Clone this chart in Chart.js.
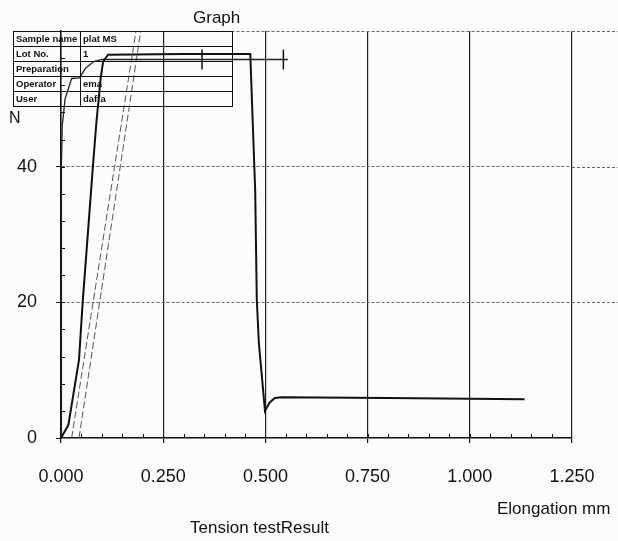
<!DOCTYPE html>
<html>
<head>
<meta charset="utf-8">
<title>Tension test</title>
<script src="https://cdn.jsdelivr.net/npm/chart.js@4.4.1/dist/chart.umd.min.js"></script>
<style>
body { margin: 0; background: #fcfcfc; font-family: "Liberation Sans", Arial, sans-serif; }
#wrap { position: relative; width: 618px; height: 541px; }
#graph { position: absolute; left: 0; top: 0; }
.lbl { position: absolute; color: #111; white-space: nowrap; line-height: 1; }
#info { position: absolute; left: 13px; top: 31px; width: 220px; height: 76px; border-collapse: collapse; table-layout: fixed; font-size: 9.5px; font-weight: bold; color: #111; }
#info td { border: 1.5px solid #111; padding: 0 0 0 2px; line-height: 12px; height: 13px; white-space: nowrap; overflow: hidden; }
</style>
</head>
<body>
<div id="wrap">
  <canvas id="graph" width="618" height="541"></canvas>
  <table id="info"><colgroup><col style="width:67px"><col></colgroup></table>
  <div class="lbl" style="left:193px;top:9px;font-size:17px;">Graph</div>
  <div class="lbl" style="left:9px;top:110px;font-size:16px;">N</div>
  <div class="lbl" style="left:497px;top:500px;font-size:17px;">Elongation mm</div>
  <div class="lbl" style="left:190px;top:519px;font-size:17px;">Tension testResult</div>
</div>
<script>
// axis ticks
const xTicks = [0, 0.25, 0.5, 0.75, 1.0, 1.25];
const yTicks = [0, 20, 40, 60];

// specimen curves (elongation mm, force N)
const spec1X = [0, 0.018, 0.044, 0.053, 0.078, 0.087, 0.097, 0.103, 0.115, 0.300, 0.463, 0.475, 0.479, 0.484, 0.499, 0.510, 0.523, 0.540, 0.800, 1.134];
const spec1Y = [0, 1.9, 11.5, 20.0, 40.0, 46.8, 53.0, 55.5, 56.5, 56.6, 56.6, 36.5, 20.3, 14.0, 4.0, 5.2, 5.9, 6.0, 5.9, 5.7];
const spec2X = [0, 0.001, 0.003, 0.010, 0.026, 0.045, 0.060, 0.080, 0.100, 0.555];
const spec2Y = [0, 40.0, 46.0, 50.0, 53.0, 53.1, 54.5, 55.5, 55.8, 55.8];

// offset (modulus) lines
const offAX = [0.026, 0.131, 0.1835];
const offAY = [0, 40, 60];
const offBX = [0.044, 0.145, 0.195];
const offBY = [0, 40, 60];

// break / max marks
const markX = [0.345, 0.544];
const markY = [55.8, 55.8];

// info table
const infoLabels = ['Sample name', 'Lot No.', 'Preparation', 'Operator', 'User'];
const infoValues = ['plat MS', '1', '', 'ema', 'daffa'];

const tbl = document.getElementById('info');
infoLabels.forEach(function(l, i) {
  const tr = document.createElement('tr');
  tr.innerHTML = '<td>' + l + '</td><td>' + infoValues[i] + '</td>';
  tbl.appendChild(tr);
});

function pts(xs, ys) {
  return xs.map(function(x, i) { return {x: x, y: ys[i]}; });
}

const FONT = '"Liberation Sans", Arial, sans-serif';

// small inward ticks between the labelled ones
const minorTicks = {
  id: 'minorTicks',
  afterDraw(chart) {
    const ctx = chart.ctx;
    const x = chart.scales.x, y = chart.scales.y;
    ctx.save();
    ctx.strokeStyle = '#111';
    ctx.lineWidth = 1;
    ctx.beginPath();
    for (let v = 0.05; v < 1.25; v += 0.05) {
      const px = Math.round(x.getPixelForValue(v)) + 0.5;
      ctx.moveTo(px, x.top);
      ctx.lineTo(px, x.top - 4);
    }
    for (let v = 4; v < 60; v += 4) {
      const py = Math.round(y.getPixelForValue(v)) + 0.5;
      ctx.moveTo(y.right, py);
      ctx.lineTo(y.right + 4, py);
    }
    ctx.stroke();
    ctx.restore();
  }
};

// horizontal grid runs on past the right edge of the plot
const gridRun = {
  id: 'gridRun',
  beforeDatasetsDraw(chart) {
    const ctx = chart.ctx;
    const y = chart.scales.y;
    ctx.save();
    ctx.strokeStyle = '#666';
    ctx.lineWidth = 1;
    ctx.setLineDash([3, 2]);
    ctx.beginPath();
    yTicks.forEach(function(v) {
      if (v === 0) return;
      const py = Math.round(y.getPixelForValue(v)) + 0.5;
      ctx.moveTo(chart.chartArea.right, py);
      ctx.lineTo(chart.width, py);
    });
    ctx.stroke();
    ctx.restore();
  }
};

new Chart(document.getElementById('graph'), {
  type: 'scatter',
  data: {
    datasets: [
      { label: 'Specimen 1', data: pts(spec1X, spec1Y), showLine: true, borderColor: '#111', borderWidth: 2, pointRadius: 0 },
      { label: 'Specimen 2', data: pts(spec2X, spec2Y), showLine: true, borderColor: '#222', borderWidth: 1.3, pointRadius: 0 },
      { label: 'Offset A', data: pts(offAX, offAY), showLine: true, borderColor: '#555', borderWidth: 1, borderDash: [7, 3], pointRadius: 0 },
      { label: 'Offset B', data: pts(offBX, offBY), showLine: true, borderColor: '#555', borderWidth: 1, borderDash: [7, 3], pointRadius: 0 },
      { label: 'Marks', data: pts(markX, markY), showLine: false, pointStyle: 'line', rotation: 90, pointRadius: 10, borderColor: '#111', borderWidth: 1.5 }
    ]
  },
  options: {
    responsive: false,
    animation: false,
    layout: { padding: { top: 31, right: 46, bottom: 0, left: 0 } },
    plugins: { legend: { display: false }, tooltip: { enabled: false } },
    scales: {
      x: {
        type: 'linear', min: 0, max: 1.25,
        afterBuildTicks: function(s) { s.ticks = xTicks.map(function(v) { return {value: v}; }); },
        afterFit: function(s) { s.height = 103; },
        ticks: { callback: function(v) { return v.toFixed(3); }, font: { family: FONT, size: 18 }, color: '#111', padding: 23, maxRotation: 0 },
        grid: { color: '#222', lineWidth: 1.2, tickLength: 5, tickColor: '#111' },
        border: { color: '#111', width: 1.5 }
      },
      y: {
        min: 0, max: 60,
        afterBuildTicks: function(s) { s.ticks = yTicks.map(function(v) { return {value: v}; }); },
        afterFit: function(s) { s.width = 61; },
        ticks: { callback: function(v) { return v === 60 ? '' : v; }, font: { family: FONT, size: 18 }, color: '#111', padding: 19 },
        grid: { color: function(c) { return c.tick && c.tick.value === 0 ? 'rgba(0,0,0,0)' : '#666'; }, lineWidth: 1, tickLength: 5, tickColor: '#111' },
        border: { color: '#111', width: 1.5, dash: [3, 2] }
      }
    }
  },
  plugins: [minorTicks, gridRun]
});
</script>
</body>
</html>
